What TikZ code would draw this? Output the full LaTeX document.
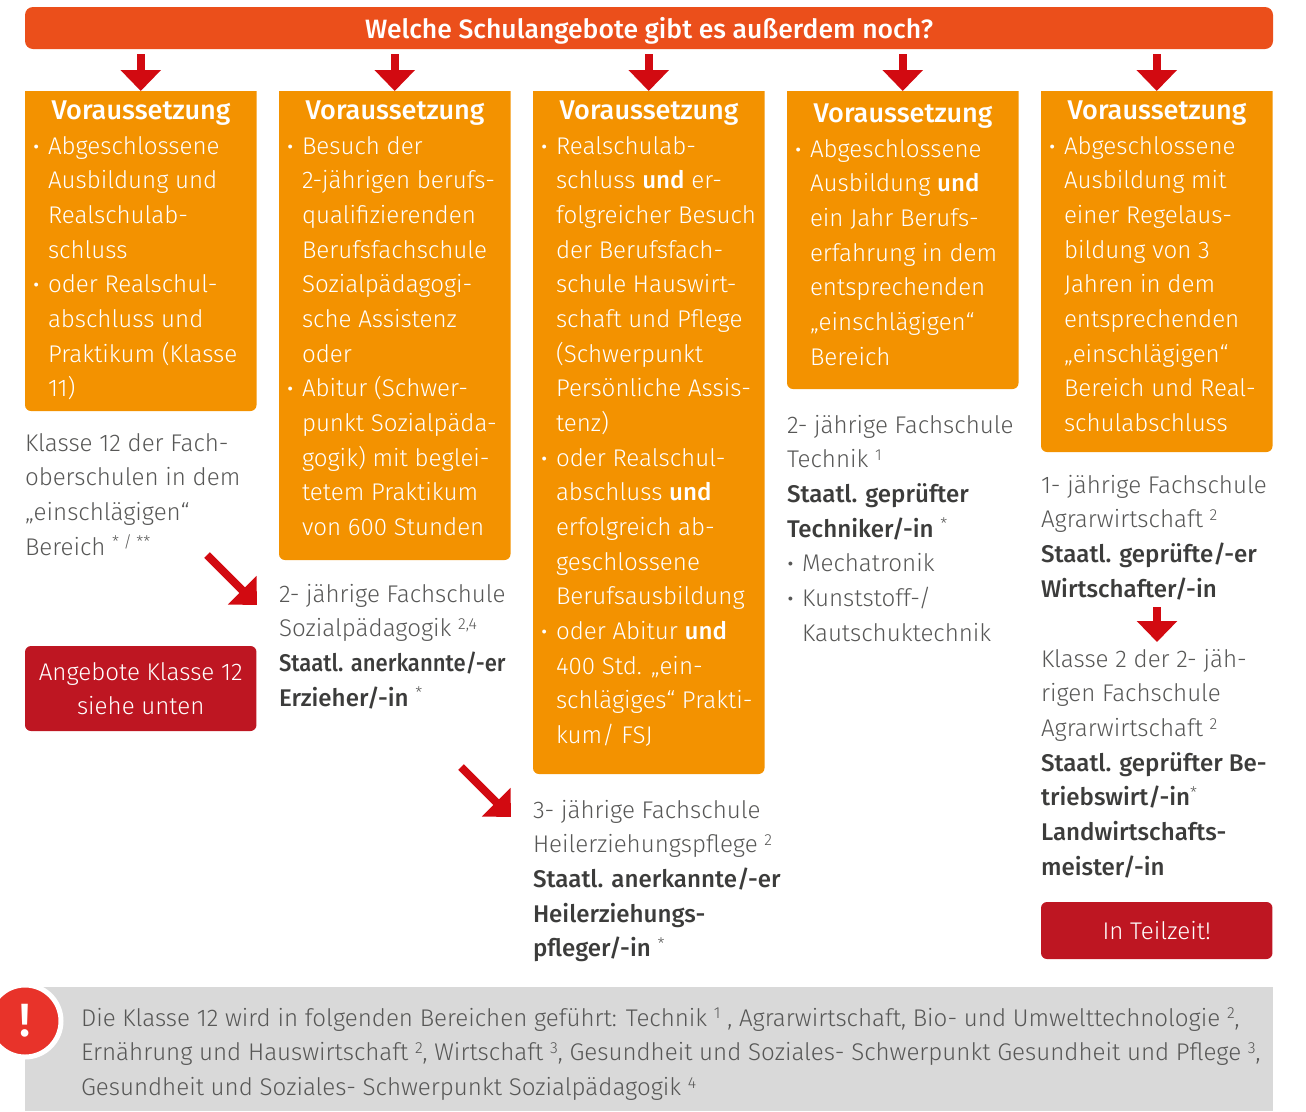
\documentclass[tikz,border=0pt]{standalone}
\usepackage{fontspec}
\usepackage{graphicx}
\setmainfont{Fira Sans Light}[BoldFont={Fira Sans Medium}]
\usetikzlibrary{arrows.meta}
\definecolor{barred}{HTML}{EB4F1B}
\definecolor{boxor}{HTML}{F39200}
\definecolor{arrred}{HTML}{D20A11}
\definecolor{btnred}{HTML}{BE1622}
\definecolor{greybg}{HTML}{D9D9D9}
\definecolor{txt}{HTML}{575756}
\definecolor{txtb}{HTML}{3C3C3B}
\definecolor{alert}{HTML}{E8332A}
\newcommand{\tr}{\rule{0pt}{15pt}}
\newcommand{\bul}{\llap{\textbf{·}\hspace{6.6pt}}}
\newcommand{\bulin}{\makebox[11.25pt][l]{\hspace{0.5pt}\textbf{·}}}
\newcommand{\hoch}[1]{\raisebox{5.5pt}{\fontsize{12}{12}\selectfont #1}}
\newcommand{\dk}[1]{\textcolor{txtb}{\textbf{#1}}}
\tikzset{
  x=0.75pt,y=-0.75pt,
  blocktext/.style={anchor=north west,inner sep=0pt,outer sep=0pt,align=left,font=\fontsize{18.1}{26}\selectfont},
  listtext/.style={blocktext,text=white},
  graytext/.style={blocktext,text=txt},
  headtext/.style={inner sep=0pt,anchor=base,text=white,font=\fontsize{20.3}{26}\selectfont\bfseries},
  holder/.style={inner sep=0pt,outer sep=0pt,anchor=north west},
  btn/.style={holder,fill=btnred,rounded corners=4.5pt,text=white,align=center,font=\fontsize{18.1}{26}\selectfont},
  bigarrow/.style={draw=arrred,line width=6pt,-{Triangle[length=15.75pt,width=29.5pt,fill=arrred]}},
}
\newcommand{\obox}[4]{%
  \fill[boxor] (#2,#3) -- (#2+231.5,#3) [rounded corners=4.5pt] -- (#2+231.5,#4) -- (#2,#4) [sharp corners] -- cycle;
  \node[holder,minimum width=173.6pt,minimum height={(#4-#3)*0.75pt}] (#1) at (#2,#3) {};
}
\begin{document}
\begin{tikzpicture}
\clip (0,0) rectangle (1306,1111);
\path[use as bounding box] (0,0) rectangle (1306,1111);
\node[holder,fill=barred,rounded corners=6pt,minimum width=936pt,minimum height=31.5pt,text=white,font=\fontsize{19.9}{24}\selectfont\bfseries,text depth=0pt,text height=15pt] (bar) at (25,7) {Welche Schulangebote gibt es außerdem noch?};
\obox{b1}{25}{91}{411}
\obox{b2}{279}{91}{560}
\obox{b3}{533}{91}{774}
\obox{b4}{787}{91}{389}
\obox{b5}{1041}{91}{452}
\foreach \b in {b1,b2,b3,b4,b5}{
  \draw[bigarrow] ([yshift=-3.75pt]bar.south -| \b.north) -- (\b.north);
}
\node[headtext] (h1) at (141,119) {Voraussetzung};
\node[headtext] (h2) at (395,119) {Voraussetzung};
\node[headtext] (h3) at (649,119) {Voraussetzung};
\node[headtext] (h4) at (903,122) {Voraussetzung};
\node[headtext] (h5) at (1157,119) {Voraussetzung};
\node[listtext] (l1) at (48,134) {\tr\bul Abgeschlossene\\Ausbildung und\\Realschulab-\\schluss\\\bul oder Realschul-\\abschluss und\\Praktikum (Klasse\\11)};
\node[listtext] (l2) at (302,134) {\tr\bul Besuch der\\2-jährigen berufs-\\qualifizierenden\\Berufsfachschule\\Sozialpädagogi-\\sche Assistenz\\oder\\\bul Abitur (Schwer-\\punkt Sozialpäda-\\gogik) mit beglei-\\tetem Praktikum\\von 600 Stunden};
\node[listtext] (l3) at (556,134) {\tr\bul Realschulab-\\schluss \textbf{und} er-\\folgreicher Besuch\\der Berufsfach-\\schule Hauswirt-\\schaft und Pflege\\(Schwerpunkt\\Persönliche Assis-\\tenz)\\\bul oder Realschul-\\abschluss \textbf{und}\\erfolgreich ab-\\geschlossene\\Berufsausbildung\\\bul oder Abitur \textbf{und}\\400 Std. „ein-\\schlägiges“ Prakti-\\kum/ FSJ};
\node[listtext] (l4) at (810,137) {\tr\bul Abgeschlossene\\Ausbildung \textbf{und}\\ein Jahr Berufs-\\erfahrung in dem\\entsprechenden\\„einschlägigen“\\Bereich};
\node[listtext] (l5) at (1064,134) {\tr\bul Abgeschlossene\\Ausbildung mit\\einer Regelaus-\\bildung von 3\\Jahren in dem\\entsprechenden\\„einschlägigen“\\Bereich und Real-\\schulabschluss};
\node[graytext] (t1) at (25,431) {\tr Klasse 12 der Fach-\\oberschulen in dem\\„einschlägigen“\\Bereich \hoch{* / **}};
\node[graytext] (t2) at (279,582) {\tr 2- jährige Fachschule\\Sozialpädagogik \hoch{2,4}\\\dk{\scalebox{0.915}[1]{Staatl. anerkannte/-er}}\\\dk{Erzieher/-in} \hoch{*}};
\node[graytext] (t3) at (533,798) {\tr 3- jährige Fachschule\\Heilerziehungspflege \hoch{2}\\\dk{Staatl. anerkannte/-er}\\\dk{Heilerziehungs-}\\\dk{pfleger/-in} \hoch{*}};
\node[graytext] (t4) at (787,413) {\tr 2- jährige Fachschule\\Technik \hoch{1}\\\dk{Staatl. geprüfter}\\\dk{Techniker/-in} \hoch{*}\\\bulin Mechatronik\\\bulin Kunststoff-/\\\hspace{11.25pt}Kautschuktechnik};
\node[graytext] (t5) at (1041,473) {\tr 1- jährige Fachschule\\Agrarwirtschaft \hoch{2}\\\dk{Staatl. geprüfte/-er}\\\dk{Wirtschafter/-in}};
\node[graytext] (t6) at (1041,647) {\tr Klasse 2 der 2- jäh-\\rigen Fachschule\\Agrarwirtschaft \hoch{2}\\\dk{Staatl. geprüfter Be-}\\\dk{triebswirt/-in}\hoch{*}\\\dk{Landwirtschafts-}\\\dk{meister/-in}};
\node[btn,minimum width=173.6pt,minimum height=63.75pt] (b12) at (25,646) {Angebote Klasse 12\\siehe unten};
\node[btn,minimum width=173.6pt,minimum height=42.75pt] (teil) at (1041,902) {In Teilzeit!};
\coordinate (d1s) at (207,555);
\coordinate (d1e) at (257,605);
\coordinate (d2s) at (461,767);
\coordinate (d2e) at (511,817);
\draw[bigarrow] (d1s) -- (d1e);
\draw[bigarrow] (d2s) -- (d2e);
\coordinate (v5s) at (1157,607);
\coordinate (v5e) at (1157,642);
\draw[bigarrow] (v5s) -- (v5e);
\node[holder,fill=greybg,minimum width=936pt,minimum height=93pt] (note) at (25,987) {};
\node[circle,fill=alert,draw=white,line width=3.75pt,minimum size=54pt,inner sep=0pt,text=white,font=\fontsize{35}{35}\selectfont\bfseries] (warn) at (25,1021) {\raisebox{-1.5pt}{!}};
\node[graytext] (n) at (81,1006) {\tr Die Klasse 12 wird in folgenden Bereichen geführt: Technik \hoch{1} , Agrarwirtschaft, Bio- und Umwelttechnologie \hoch{2},\\Ernährung und Hauswirtschaft \hoch{2}, Wirtschaft \hoch{3}, Gesundheit und Soziales- Schwerpunkt Gesundheit und Pflege \hoch{3},\\Gesundheit und Soziales- Schwerpunkt Sozialpädagogik \hoch{4}};
\end{tikzpicture}
\end{document}
